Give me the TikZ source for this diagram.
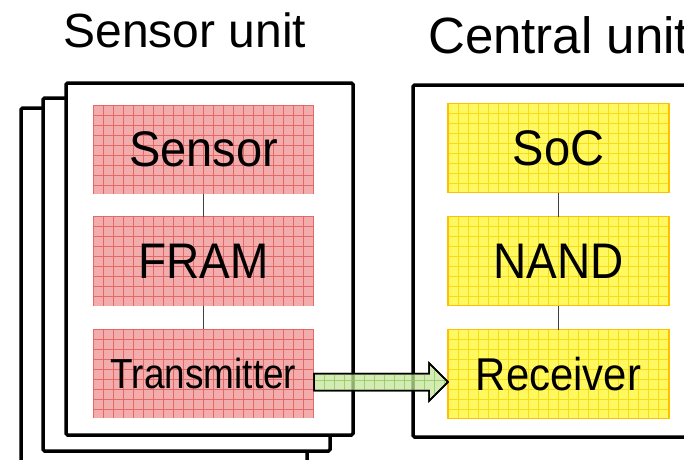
\documentclass[tikz,border=0pt]{standalone}
\usepackage{fontspec}
\usepackage{graphicx}
\setmainfont{Liberation Sans}
\definecolor{redfill}{RGB}{242,172,172}
\definecolor{redgrid}{RGB}{228,104,104}
\definecolor{yelfill}{RGB}{255,248,96}
\definecolor{yelgrid}{RGB}{245,222,20}
\definecolor{yelborder}{RGB}{255,192,0}
\definecolor{grnfill}{RGB}{198,230,156}
\definecolor{grngrid}{RGB}{145,200,95}
\definecolor{connc}{RGB}{64,64,64}
\tikzset{
  gridded/.style={path picture={
    \foreach \k in {0,...,24}{
      \draw[#1,line width=0.8pt] ([xshift=\k*10pt]path picture bounding box.south west) -- ([xshift=\k*10pt]path picture bounding box.north west);
    }
    \foreach \k in {0,...,10}{
      \draw[#1,line width=0.8pt] ([yshift=-\k*10pt]path picture bounding box.north west) -- ([yshift=-\k*10pt]path picture bounding box.north east);
    }
  }},
  unitbox/.style={minimum width=221pt, minimum height=89pt, inner sep=0pt, outer sep=0pt},
  redbox/.style={unitbox, fill=redfill, gridded=redgrid},
  yelbox/.style={unitbox, fill=yelfill, draw=yelborder, line width=1.5pt, gridded=yelgrid},
  sheet/.style={draw=black, fill=white, line width=3.5pt, rounded corners=1.5pt},
  conn/.style={draw=connc, line width=1.5pt},
  bigtxt/.style={font=\fontsize{50}{50}\selectfont},
  title/.style={font=\fontsize{48}{48}\selectfont, inner sep=0pt, anchor=base},
  flowarrow/.style={draw=black, line width=1.5pt, fill=grnfill, fill opacity=0.75, line join=miter},
}
\begin{document}
\begin{tikzpicture}[x=1pt,y=-1pt]
\clip (0,0) rectangle (684,459);
\fill[white] (0,0) rectangle (684,459);
% titles
\node[title] (t1) at (185,47) {Sensor unit};
\node[title, anchor=base west, font=\fontsize{51}{51}\selectfont] (t2) at (428,53) {Central unit};
% stacked sheets
\draw[sheet] (21,108) rectangle (307,480);
\draw[sheet] (43,98) rectangle (330,451);
\draw[sheet] (66,83) rectangle (353,435);
% central unit box
\draw[sheet] (413,85) rectangle (720,437);
% sensor unit blocks
\node[redbox, bigtxt] (sensor) at (203.5,149.5) {\scalebox{0.94}[1]{Sensor}};
\node[redbox, bigtxt] (fram) at (203.5,261) {\scalebox{0.92}[1]{FRAM}};
\node[redbox, font=\fontsize{42}{42}\selectfont] (tx) at (203.5,373.5) {\scalebox{0.88}[1]{Transmitter}};
% central unit blocks
\node[yelbox, bigtxt] (soc) at (558.5,148) {\scalebox{0.94}[1]{SoC}};
\node[yelbox, bigtxt] (nand) at (558.5,261) {\scalebox{0.92}[1]{NAND}};
\node[yelbox, font=\fontsize{46}{46}\selectfont] (rx) at (558.5,374) {\scalebox{0.91}[1]{Receiver}};
% connectors
\draw[conn] (sensor) -- (fram);
\draw[conn] (fram) -- (tx);
\draw[conn] (soc) -- (nand);
\draw[conn] (nand) -- (rx);
% block arrow
\coordinate (as) at ([yshift=-8.5pt]tx.east);
\coordinate (tip) at (rx.west |- as);
\draw[flowarrow] ([yshift=8.5pt]as) -- ([xshift=-19pt,yshift=8.5pt]tip) -- ([xshift=-19pt,yshift=19pt]tip) -- (tip) -- ([xshift=-19pt,yshift=-19pt]tip) -- ([xshift=-19pt,yshift=-8.5pt]tip) -- ([yshift=-8.5pt]as) -- cycle;
\begin{scope}
\clip ([yshift=8.5pt]as) -- ([xshift=-19pt,yshift=8.5pt]tip) -- ([xshift=-19pt,yshift=19pt]tip) -- (tip) -- ([xshift=-19pt,yshift=-19pt]tip) -- ([xshift=-19pt,yshift=-8.5pt]tip) -- ([yshift=-8.5pt]as) -- cycle;
\foreach \k in {0,...,14}{
  \draw[grngrid, line width=0.8pt, opacity=0.8] ([xshift=\k*10pt, yshift=30pt]as) -- ([xshift=\k*10pt, yshift=-30pt]as);
}
\draw[grngrid, line width=0.8pt, opacity=0.8] ([yshift=1.5pt]as) -- ([yshift=1.5pt]tip);
\end{scope}
\draw[flowarrow, fill=none] ([yshift=8.5pt]as) -- ([xshift=-19pt,yshift=8.5pt]tip) -- ([xshift=-19pt,yshift=19pt]tip) -- (tip) -- ([xshift=-19pt,yshift=-19pt]tip) -- ([xshift=-19pt,yshift=-8.5pt]tip) -- ([yshift=-8.5pt]as) -- cycle;
\end{tikzpicture}
\end{document}
